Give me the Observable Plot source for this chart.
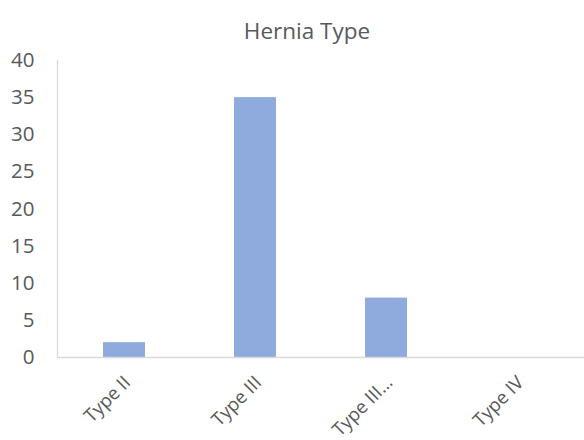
<!DOCTYPE html>
<html><head><meta charset="utf-8">
<script src="https://cdn.jsdelivr.net/npm/d3@7"></script>
<script src="https://cdn.jsdelivr.net/npm/@observablehq/plot@0.6"></script>
<style>body{margin:0;background:#fff;} svg{font-family:"Open Sans",sans-serif;}</style>
</head><body><div id="chart"></div>
<script>
const categories = ["Type II", "Type III", "Type III…", "Type IV"];
const counts = [2, 35, 8, 0];
const yTicks = [0, 5, 10, 15, 20, 25, 30, 35, 40];
const title = "Hernia Type";

const data = categories.map((c, i) => ({category: c, count: counts[i]}));

const chart = Plot.plot({
  width: 584,
  height: 440,
  marginTop: 60,
  marginBottom: 83,
  marginLeft: 57,
  marginRight: 0,
  style: {fontFamily: "'Open Sans', sans-serif", background: "#fff"},
  x: {domain: categories, paddingInner: 0.68, paddingOuter: 0.34, label: null},
  y: {domain: [0, 40], label: null},
  marks: [
    Plot.barY(data, {x: "category", y: "count", fill: "#8FAADC"}),
    Plot.frame({anchor: "left", stroke: "#d9d9d9", strokeWidth: 1.3, strokeOpacity: 1}),
    Plot.ruleY([0], {stroke: "#d9d9d9", strokeWidth: 1.3}),
    Plot.axisY(yTicks, {tickSize: 0, tickPadding: 23, fontSize: 20.5, fill: "#595959", label: null}),
    Plot.axisX({tickSize: 0, tickRotate: -45, tickPadding: 22, dx: 3, fontSize: 18.5, fill: "#595959", label: null}),
    Plot.text([title], {frameAnchor: "top", dy: -37, dx: -14, fontSize: 22.5, fill: "#595959"})
  ]
});
document.getElementById("chart").appendChild(chart);
</script></body></html>
